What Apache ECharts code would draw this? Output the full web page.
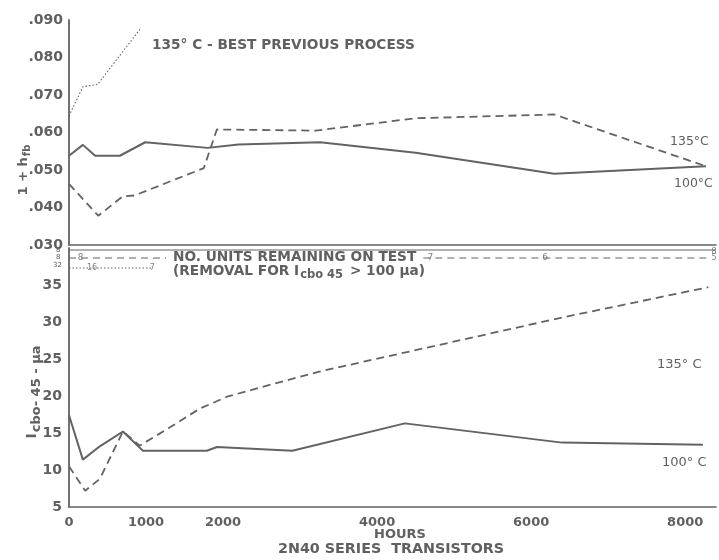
<!DOCTYPE html>
<html>
<head>
<meta charset="utf-8">
<script src="https://cdn.jsdelivr.net/npm/echarts@6/dist/echarts.min.js"></script>
<style>
  html, body { margin: 0; padding: 0; background: #ffffff; }
  #chart { width: 719px; height: 560px; }
</style>
</head>
<body>
<div id="chart"></div>
<script>
// ---- 1 + h_fb versus life-test hours ----
const hfb100Hours = [0, 180, 340, 660, 990, 1800, 2200, 3260, 4500, 6300, 8270];
const hfb100Values = [0.0538, 0.0567, 0.0538, 0.0538, 0.0574, 0.0559, 0.0568, 0.0574, 0.0546, 0.0490, 0.0510];

const hfb135Hours = [0, 380, 700, 850, 1750, 1920, 3200, 4500, 6300, 8270];
const hfb135Values = [0.0463, 0.0378, 0.0430, 0.0432, 0.0505, 0.0608, 0.0605, 0.0638, 0.0648, 0.0510];

const hfbPrevHours = [0, 180, 370, 920];
const hfbPrevValues = [0.0644, 0.0722, 0.0728, 0.0875];

// ---- Icbo at 45 V (microamps) versus life-test hours ----
const icbo100Hours = [0, 180, 400, 700, 960, 1790, 1920, 2900, 4360, 6400, 8230];
const icbo100Values = [17.4, 11.4, 13.2, 15.2, 12.6, 12.6, 13.1, 12.6, 16.3, 13.7, 13.4];

const icbo135Hours = [0, 210, 400, 700, 920, 1300, 1700, 2050, 2500, 3250, 6400, 8300];
const icbo135Values = [10.5, 7.2, 8.8, 15.2, 13.3, 15.7, 18.3, 19.9, 21.2, 23.3, 30.6, 34.7];

// ---- units remaining on test ----
const units100Span = [0, 8400];
const units100LabelHours = [8400];
const units100Counts = [8];

const units135Spans = [[0, 1260], [4600, 8300]];
const units135LabelHours = [150, 4690, 6180, 8400];
const units135Counts = [8, 7, 6, 5];

const unitsPrevSpan = [0, 1080];
const unitsPrevLabelHours = [300, 1080];
const unitsPrevCounts = [16, 7];

// tick labels
const hourTickLabels = [0, 1000, 2000, 4000, 6000, 8000];
const hfbTicks = [0.03, 0.09, 0.01];   // min, max, step
const icboTicks = [5, 35, 5];

const INK = '#636363';
const TEXT = '#606060';
const FONT = 'DejaVu Sans';
const LETTER = 'bold 13.7px "DejaVu Sans"';

const pairs = (xs, ys) => xs.map((x, i) => [x, ys[i]]);

// rows of the unit-count strip
const ROW100 = 0.4, ROW135 = 1.2, ROWPREV = 2.2;

const chart = echarts.init(document.getElementById('chart'), null, { renderer: 'canvas' });

const baseX = {
  type: 'value', min: 0, max: 8400, interval: 1000,
  splitLine: { show: false }, axisTick: { show: false }
};

function lineSeries(name, xAxisIndex, data, type, width) {
  return {
    name, type: 'line', xAxisIndex, yAxisIndex: xAxisIndex,
    data, symbol: 'none', silent: true, animation: false,
    lineStyle: { color: INK, width, type }
  };
}

function countLabels(hours, row, counts, offset, size) {
  return {
    type: 'scatter', xAxisIndex: 2, yAxisIndex: 2, symbolSize: 0, silent: true, animation: false,
    data: hours.map((h, i) => ({ value: [h, row], name: String(counts[i]) })),
    label: {
      show: true, position: 'inside', offset: offset || [0, 0],
      formatter: p => p.name, color: TEXT, fontFamily: FONT, fontSize: size || 8,
      backgroundColor: '#ffffff', padding: [0, 1]
    }
  };
}

const tickFont = { color: TEXT, fontFamily: FONT, fontSize: 14, fontWeight: 'bold' };

const option = {
  backgroundColor: '#ffffff',
  animation: false,
  grid: [
    { left: 69, width: 647, top: 20, height: 225 },
    { left: 69, width: 647, top: 248, height: 259 },
    { left: 69, width: 647, top: 246, height: 30 }
  ],
  xAxis: [
    Object.assign({}, baseX, {
      gridIndex: 0,
      axisLine: { show: true, lineStyle: { color: INK, width: 1.6 } },
      axisLabel: { show: false }
    }),
    Object.assign({}, baseX, {
      gridIndex: 1,
      axisLine: { show: true, lineStyle: { color: INK, width: 1.6 } },
      axisLabel: Object.assign({}, tickFont, {
        fontSize: 13, margin: 9,
        formatter: v => hourTickLabels.includes(v) ? String(v) : ''
      })
    }),
    Object.assign({}, baseX, { gridIndex: 2, show: false })
  ],
  yAxis: [
    {
      type: 'value', gridIndex: 0, min: hfbTicks[0], max: hfbTicks[1], interval: hfbTicks[2],
      splitLine: { show: false }, axisTick: { show: false },
      axisLine: { show: true, lineStyle: { color: INK, width: 1.8 } },
      axisLabel: Object.assign({}, tickFont, {
        margin: 6,
        formatter: v => v.toFixed(3).replace(/^0/, '')
      })
    },
    {
      type: 'value', gridIndex: 1, min: icboTicks[0], max: 40, interval: icboTicks[2],
      splitLine: { show: false }, axisTick: { show: false },
      axisLine: { show: true, lineStyle: { color: INK, width: 1.8 } },
      axisLabel: Object.assign({}, tickFont, {
        margin: 7,
        formatter: v => (v <= icboTicks[1] && v % icboTicks[2] === 0) ? String(v) : ''
      })
    },
    { type: 'value', gridIndex: 2, min: 0, max: 3, inverse: true, show: false }
  ],
  series: [
    lineSeries('1+hfb 100°C', 0, pairs(hfb100Hours, hfb100Values), 'solid', 2),
    lineSeries('1+hfb 135°C', 0, pairs(hfb135Hours, hfb135Values), [8, 5], 1.8),
    lineSeries('1+hfb best previous', 0, pairs(hfbPrevHours, hfbPrevValues), [1.5, 2], 1.1),
    lineSeries('Icbo 100°C', 1, pairs(icbo100Hours, icbo100Values), 'solid', 2),
    lineSeries('Icbo 135°C', 1, pairs(icbo135Hours, icbo135Values), [8, 5], 1.8),

    // unit-count strip
    lineSeries('units 100°C', 2, units100Span.map(h => [h, ROW100]), 'solid', 1),
    lineSeries('units 135°C', 2,
      [].concat(...units135Spans.map((s, k) => {
        const seg = s.map(h => [h, ROW135]);
        return k < units135Spans.length - 1 ? seg.concat([[null, null]]) : seg;
      })), [7, 5], 1.2),
    lineSeries('units best previous', 2, unitsPrevSpan.map(h => [h, ROWPREV]), [1.5, 2], 1),
    countLabels(units100LabelHours, ROW100, units100Counts, [-2, 2], 8),
    countLabels(units135LabelHours.slice(0, 3), ROW135, units135Counts.slice(0, 3), [0, 0], 9),
    countLabels(units135LabelHours.slice(3), ROW135, units135Counts.slice(3), [-2, 0], 8),
    countLabels(unitsPrevLabelHours, ROWPREV, unitsPrevCounts, [0, 0], 8)
  ],
  graphic: [
    { type: 'text', left: 152, top: 38,
      style: { text: '135° C - BEST PREVIOUS PROCESS', font: LETTER, fill: TEXT } },
    { type: 'text', left: 670, top: 135,
      style: { text: '135°C', font: '12.5px "DejaVu Sans"', fill: TEXT } },
    { type: 'text', left: 674, top: 177,
      style: { text: '100°C', font: '12.5px "DejaVu Sans"', fill: TEXT } },
    { type: 'text', left: 657, top: 358,
      style: { text: '135° C', font: '13px "DejaVu Sans"', fill: TEXT } },
    { type: 'text', left: 662, top: 456,
      style: { text: '100° C', font: '13px "DejaVu Sans"', fill: TEXT } },
    { type: 'text', left: 173, top: 250,
      style: { text: 'NO. UNITS REMAINING ON TEST', font: LETTER, fill: TEXT } },
    { type: 'text', left: 173, top: 264,
      style: {
        text: '(REMOVAL FOR I{s|cbo 45} > 100 μa)',
        font: LETTER, fill: TEXT,
        rich: { s: { fontSize: 11.5, fontWeight: 'bold', fontFamily: FONT, fill: TEXT, padding: [8, 2, 0, 1] } }
      } },
    { type: 'text', left: 56, top: 247, style: { text: '8', font: '7px "DejaVu Sans"', fill: TEXT } },
    { type: 'text', left: 56, top: 254, style: { text: '8', font: '7px "DejaVu Sans"', fill: TEXT } },
    { type: 'text', left: 53, top: 262, style: { text: '32', font: '7px "DejaVu Sans"', fill: TEXT } },
    { type: 'text', x: 24, y: 170, rotation: Math.PI / 2,
      style: {
        text: '1 + h{s|fb}', font: 'bold 13px "DejaVu Sans"', fill: TEXT,
        align: 'center', verticalAlign: 'middle',
        rich: { s: { fontSize: 10, fontWeight: 'bold', fontFamily: FONT, fill: TEXT, padding: [7, 0, 0, 1] } }
      } },
    { type: 'text', x: 32, y: 392, rotation: Math.PI / 2,
      style: {
        text: 'I{s|cbo- 45 - μa}', font: 'bold 14px "DejaVu Sans"', fill: TEXT,
        align: 'center', verticalAlign: 'middle',
        rich: { s: { fontSize: 13, fontWeight: 'bold', fontFamily: FONT, fill: TEXT, padding: [10, 0, 0, 1] } }
      } },
    { type: 'text', left: 374, top: 528,
      style: { text: 'HOURS', font: 'bold 13px "DejaVu Sans"', fill: TEXT } },
    { type: 'text', left: 278, top: 542,
      style: { text: '2N40 SERIES  TRANSISTORS', font: 'bold 14.3px "DejaVu Sans"', fill: TEXT } }
  ]
};

chart.setOption(option);
</script>
</body>
</html>
